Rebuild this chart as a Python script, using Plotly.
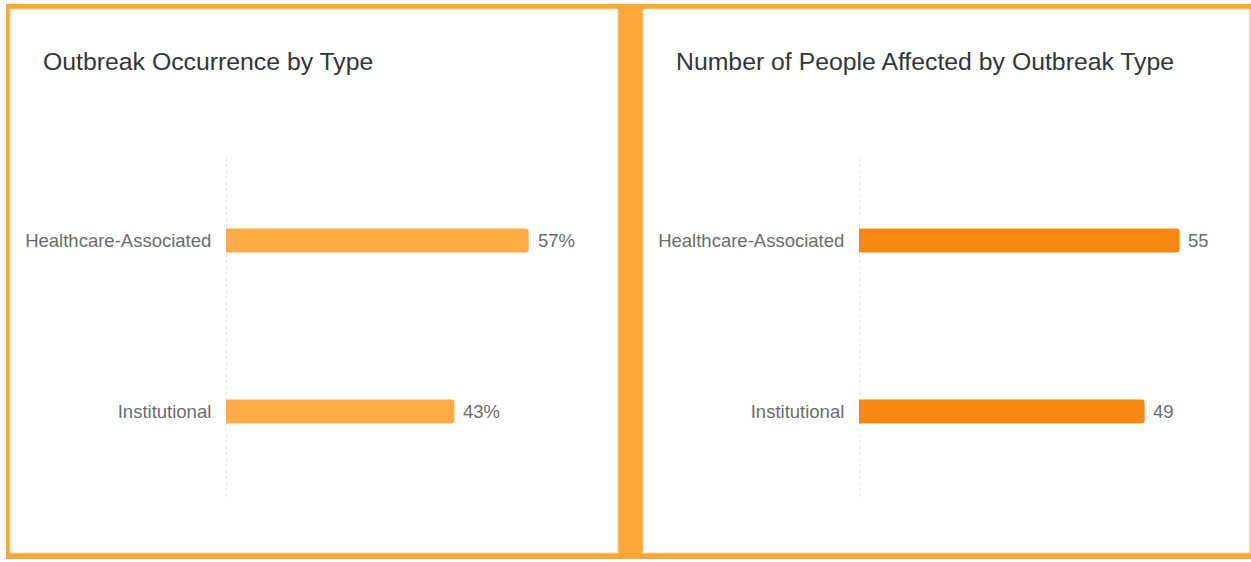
import plotly.graph_objects as go

categories = ["Healthcare-Associated", "Institutional"]
occurrence_pct = [57, 43]
people_affected = [55, 49]

left_title = "Outbreak Occurrence by Type"
right_title = "Number of People Affected by Outbreak Type"

W, H = 1251, 562
FRAME = "#FDA836"
LEFT_BAR = "#FEAC43"
RIGHT_BAR = "#F78811"
TXT = "#6A6D70"
TITLE = "#32363A"
FONT = "Liberation Sans"

def px(x):
    return x / W

def py(y):
    return 1 - y / H

fig = go.Figure()

fig.add_trace(go.Bar(
    x=occurrence_pct, y=categories, orientation="h",
    marker=dict(color=LEFT_BAR, line=dict(width=0)),
    width=0.14, xaxis="x", yaxis="y", hoverinfo="skip",
))
fig.add_trace(go.Bar(
    x=people_affected, y=categories, orientation="h",
    marker=dict(color=RIGHT_BAR, line=dict(width=0)),
    width=0.14, xaxis="x2", yaxis="y2", hoverinfo="skip",
))

# value labels
for v, c in zip(occurrence_pct, categories):
    fig.add_annotation(x=v, y=c, xref="x", yref="y", text=f"{v}%", showarrow=False,
                       xanchor="left", yanchor="middle", xshift=7,
                       font=dict(color=TXT, size=18.5, family=FONT))
for v, c in zip(people_affected, categories):
    fig.add_annotation(x=v, y=c, xref="x2", yref="y2", text=str(v), showarrow=False,
                       xanchor="left", yanchor="middle", xshift=6,
                       font=dict(color=TXT, size=18.5, family=FONT))

# plot area positions (pixels)
L1, R1 = 226, 600
L2, R2 = 859, 1235
TOP, BOT = 155, 497

xcommon = dict(showticklabels=False, showgrid=False, zeroline=False, showline=False, ticks="")
ycommon = dict(categoryorder="array", categoryarray=categories, range=[1.5, -0.5],
               showgrid=False, zeroline=False, showline=False, ticks="outside",
               ticklen=10, tickcolor="rgba(0,0,0,0)",
               tickfont=dict(color=TXT, size=18.5, family=FONT))

fig.update_layout(
    width=W, height=H,
    margin=dict(l=0, r=0, t=0, b=0),
    paper_bgcolor="white", plot_bgcolor="rgba(0,0,0,0)",
    showlegend=False, barcornerradius=3,
    xaxis=dict(domain=[px(L1), px(R1)], range=[0, (R1 - L1) / 5.31], anchor="y", **xcommon),
    yaxis=dict(domain=[py(BOT), py(TOP)], anchor="x", **ycommon),
    xaxis2=dict(domain=[px(L2), px(R2)], range=[0, (R2 - L2) / 5.83], anchor="y2", **xcommon),
    yaxis2=dict(domain=[py(BOT), py(TOP)], anchor="x2", **ycommon),
    font=dict(family=FONT),
)

shapes = [
    dict(type="rect", xref="paper", yref="paper", x0=px(6), x1=px(1251), y0=py(559), y1=py(4),
         fillcolor=FRAME, line=dict(width=0), layer="below"),
    dict(type="rect", xref="paper", yref="paper", x0=px(10), x1=px(618), y0=py(553), y1=py(9),
         fillcolor="white", line=dict(color="#F3D3A6", width=1), layer="below"),
    dict(type="rect", xref="paper", yref="paper", x0=px(643), x1=px(1250), y0=py(553), y1=py(9),
         fillcolor="white", line=dict(color="#F3D3A6", width=1), layer="below"),
    dict(type="line", xref="x", yref="y domain", x0=0, x1=0, y0=0, y1=1,
         line=dict(color="#C9CCCF", width=1, dash="dot"), layer="below"),
    dict(type="line", xref="x2", yref="y2 domain", x0=0, x1=0, y0=0, y1=1,
         line=dict(color="#C9CCCF", width=1, dash="dot"), layer="below"),
]
fig.update_layout(shapes=shapes)

fig.add_annotation(text=left_title, xref="paper", yref="paper", x=px(41), y=py(62),
                   xanchor="left", yanchor="middle", showarrow=False,
                   font=dict(size=24.8, color=TITLE, family=FONT))
fig.add_annotation(text=right_title, xref="paper", yref="paper", x=px(674), y=py(62),
                   xanchor="left", yanchor="middle", showarrow=False,
                   font=dict(size=24.8, color=TITLE, family=FONT))

fig.write_html("out.html", config={"displayModeBar": False},
               post_script="document.body.style.margin='0px';")
